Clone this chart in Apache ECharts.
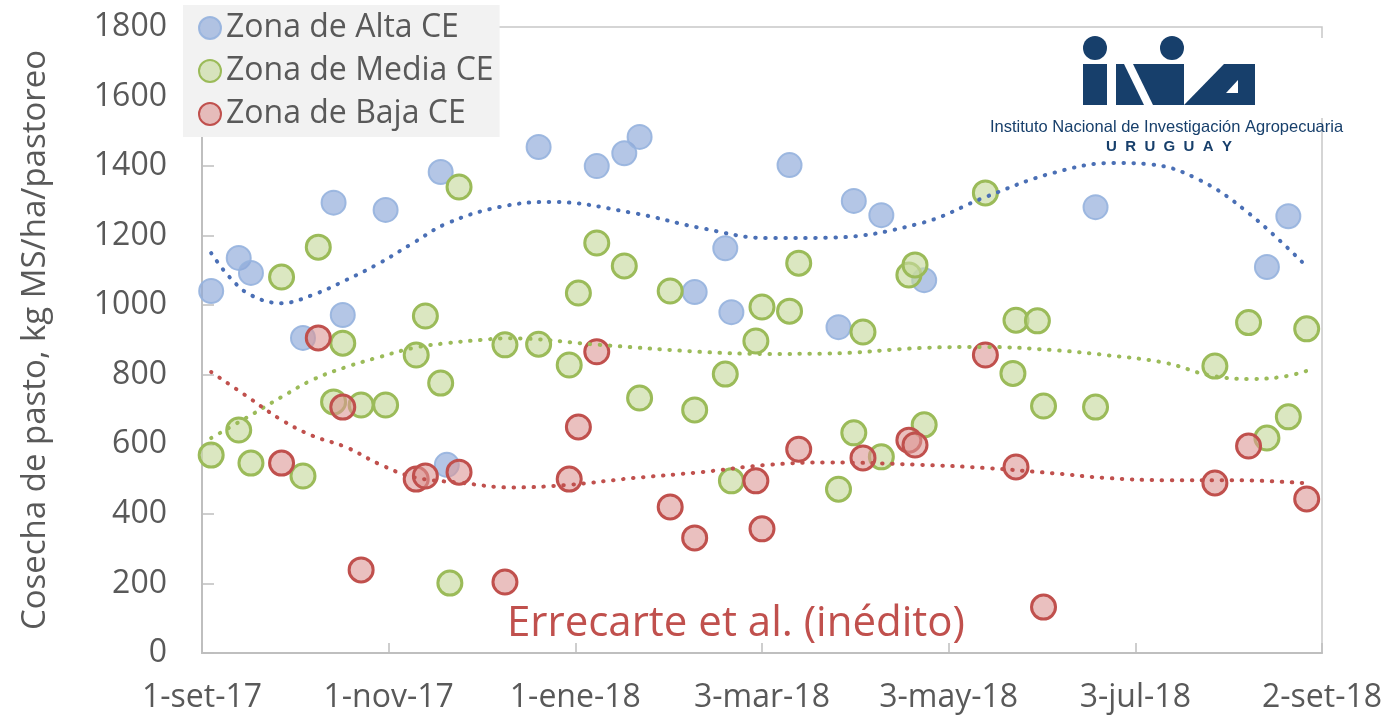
<!DOCTYPE html>
<html>
<head>
<meta charset="utf-8">
<title>Cosecha de pasto</title>
<script src="https://cdn.jsdelivr.net/npm/echarts@6/dist/echarts.min.js"></script>
<style>
  html, body { margin: 0; padding: 0; background: #fff; }
</style>
</head>
<body>
<div id="chart" style="width: 1390px; height: 720px;"></div>
<script>
// eje x: dias desde 1-set-17
var xTickLabels = ["1-set-17", "1-nov-17", "1-ene-18", "3-mar-18", "3-may-18", "3-jul-18", "2-set-18"];
var seriesNames = ["Zona de Alta CE", "Zona de Media CE", "Zona de Baja CE"];

var altaDias = [3, 12, 16, 33, 43, 46, 60, 78, 80, 110, 129, 138, 143, 161, 171, 173, 192, 208, 213, 222, 236, 292, 348, 355];
var altaCosecha = [1041, 1136, 1093, 906, 1295, 972, 1274, 1383, 541, 1455, 1400, 1437, 1484, 1038, 1164, 980, 1403, 937, 1300, 1259, 1072, 1282, 1110, 1256];

var mediaDias = [3, 12, 16, 26, 33, 38, 43, 46, 52, 60, 70, 73, 78, 81, 84, 99, 110, 120, 123, 129, 138, 143, 153, 161, 171, 173, 181, 183, 192, 195, 208, 213, 216, 222, 231, 233, 236, 256, 265, 266, 273, 275, 292, 331, 342, 348, 355, 361];
var mediaCosecha = [569, 641, 546, 1081, 509, 1167, 722, 891, 713, 713, 857, 969, 776, 201, 1340, 886, 888, 828, 1035, 1179, 1113, 733, 1041, 699, 802, 495, 897, 995, 983, 1121, 471, 633, 923, 564, 1087, 1116, 656, 1323, 804, 957, 955, 710, 707, 825, 950, 618, 679, 932];

var bajaDias = [26, 38, 46, 52, 70, 73, 84, 99, 120, 123, 129, 153, 161, 181, 183, 195, 216, 231, 233, 256, 266, 275, 331, 342, 361];
var bajaCosecha = [546, 906, 707, 239, 500, 509, 520, 204, 500, 650, 866, 420, 331, 495, 357, 586, 561, 612, 598, 857, 535, 132, 489, 595, 443];

// lineas de tendencia
var tendAltaDias = [3, 9, 16, 26, 36, 47, 58, 69, 80, 97, 114, 141, 163, 185, 204, 235, 256, 278, 298, 310, 326, 342, 360];
var tendAlta = [1150, 1081, 1029, 1006, 1029, 1072, 1121, 1179, 1235, 1282, 1297, 1265, 1222, 1193, 1194, 1236, 1311, 1380, 1409, 1405, 1360, 1265, 1120];
var tendMediaDias = [3, 15, 26, 36, 47, 58, 69, 80, 91, 100, 130, 163, 185, 204, 235, 256, 278, 296, 315, 329, 342, 353, 361];
var tendMedia = [618, 679, 736, 785, 822, 851, 877, 891, 900, 905, 886, 866, 860, 861, 877, 880, 871, 856, 834, 799, 788, 794, 811];
var tendBajaDias = [3, 15, 26, 36, 47, 58, 69, 85, 101, 119, 141, 163, 185, 204, 235, 256, 278, 296, 315, 337, 361];
var tendBaja = [808, 736, 670, 625, 592, 543, 506, 489, 476, 483, 503, 520, 541, 548, 541, 532, 517, 503, 497, 497, 488];

function pares(xs, ys) {
  return xs.map(function(x, i) { return [x, ys[i]]; });
}

var chart = echarts.init(document.getElementById("chart"));
var logoColor = "#173f6b";
var textGray = "#595959";

function scatterSerie(name, xs, ys, fill, border, bw) {
  return {
    name: name,
    type: "scatter",
    data: pares(xs, ys),
    symbol: "circle",
    symbolSize: 24,
    itemStyle: { color: fill, borderColor: border, borderWidth: bw, opacity: 1 },
    z: 3
  };
}

function trendSerie(xs, ys, color) {
  return {
    type: "line",
    data: pares(xs, ys),
    smooth: 0.4,
    showSymbol: false,
    silent: true,
    lineStyle: { color: color, width: 4, type: [0.5, 9.5], cap: "round" },
    z: 4
  };
}

var option = {
  backgroundColor: "#fff",
  animation: false,
  grid: {
    left: 202, right: 68, top: 27, bottom: 67,
    show: true, borderColor: "#c8c8c8", borderWidth: 1.5
  },
  legend: {
    data: seriesNames,
    orient: "vertical",
    left: 183, top: 5,
    padding: [7, 6, 7, 15],
    itemGap: 11,
    itemWidth: 22, itemHeight: 22,
    backgroundColor: "#f2f2f2",
    textStyle: { fontFamily: "Open Sans", fontSize: 32, lineHeight: 32, color: textGray }
  },
  xAxis: {
    type: "value",
    min: 0, max: 366, interval: 61,
    axisLine: { lineStyle: { color: "#bfbfbf", width: 2 } },
    axisTick: { inside: true, length: 10, lineStyle: { color: "#bfbfbf", width: 1.5 } },
    splitLine: { show: false },
    axisLabel: {
      margin: 29,
      fontFamily: "Open Sans", fontSize: 32, color: textGray,
      showMinLabel: true, showMaxLabel: true,
      formatter: function(v) { return xTickLabels[Math.round(v / 61)]; }
    }
  },
  yAxis: {
    type: "value",
    min: 0, max: 1800, interval: 200,
    name: "Cosecha de pasto, kg MS/ha/pastoreo",
    nameLocation: "middle",
    nameRotate: 90,
    nameGap: 150,
    nameTextStyle: { fontFamily: "Open Sans", fontSize: 33, color: textGray },
    axisLine: { show: true, lineStyle: { color: "#bfbfbf", width: 2 } },
    axisTick: { show: true, inside: true, length: 12, lineStyle: { color: "#bfbfbf", width: 1.5 } },
    splitLine: { show: false },
    axisLabel: {
      margin: 35, fontFamily: "Open Sans", fontSize: 32, color: textGray,
      formatter: function(v) { return String(v); }
    }
  },
  graphic: [
    // fondo blanco del logo
    { type: "rect", shape: { x: 985, y: 38, width: 368, height: 80 }, style: { fill: "#fff" }, z: 10 },
    { type: "circle", shape: { cx: 1095, cy: 48, r: 12 }, style: { fill: logoColor }, z: 11 },
    { type: "circle", shape: { cx: 1172, cy: 48, r: 12 }, style: { fill: logoColor }, z: 11 },
    { type: "rect", shape: { x: 1083, y: 64, width: 24, height: 41 }, style: { fill: logoColor }, z: 11 },
    { type: "polygon", shape: { points: [[1116, 64], [1124, 64], [1144, 105], [1116, 105]] }, style: { fill: logoColor }, z: 11 },
    { type: "polygon", shape: { points: [[1133, 64], [1184, 64], [1184, 105], [1153, 105]] }, style: { fill: logoColor }, z: 11 },
    { type: "polygon", shape: { points: [[1184, 105], [1224, 64], [1255, 64], [1255, 105]] }, style: { fill: logoColor }, z: 11 },
    { type: "polygon", shape: { points: [[1226, 93], [1238, 80], [1238, 93]] }, style: { fill: "#fff" }, z: 12 },
    {
      type: "text", left: 990, top: 119, z: 11,
      style: { text: "Instituto Nacional de Investigación Agropecuaria", font: "16.5px 'Liberation Sans'", fill: logoColor }
    },
    {
      type: "text", x: 1169, y: 147, z: 11,
      style: { text: "U  R  U  G  U  A  Y", font: "bold 15px 'Liberation Sans'", fill: logoColor, textAlign: "center", textVerticalAlign: "middle" }
    },
    {
      type: "text", left: 507, top: 603, z: 11,
      style: { text: "Errecarte et al. (inédito)", font: "42px 'Open Sans'", fill: "#c0504d" }
    }
  ],
  series: [
    scatterSerie(seriesNames[0], altaDias, altaCosecha, "rgba(140,168,216,0.65)", "rgba(150,178,222,0.9)", 2),
    scatterSerie(seriesNames[1], mediaDias, mediaCosecha, "rgba(200,218,160,0.65)", "#9bbb59", 3),
    scatterSerie(seriesNames[2], bajaDias, bajaCosecha, "rgba(220,150,148,0.6)", "#c0504d", 3),
    trendSerie(tendAltaDias, tendAlta, "#4a6fb5"),
    trendSerie(tendMediaDias, tendMedia, "#9bbb59"),
    trendSerie(tendBajaDias, tendBaja, "#c0504d")
  ]
};

chart.setOption(option);

window.onresize = function() {
  chart.resize();
};
</script>
</body>
</html>
